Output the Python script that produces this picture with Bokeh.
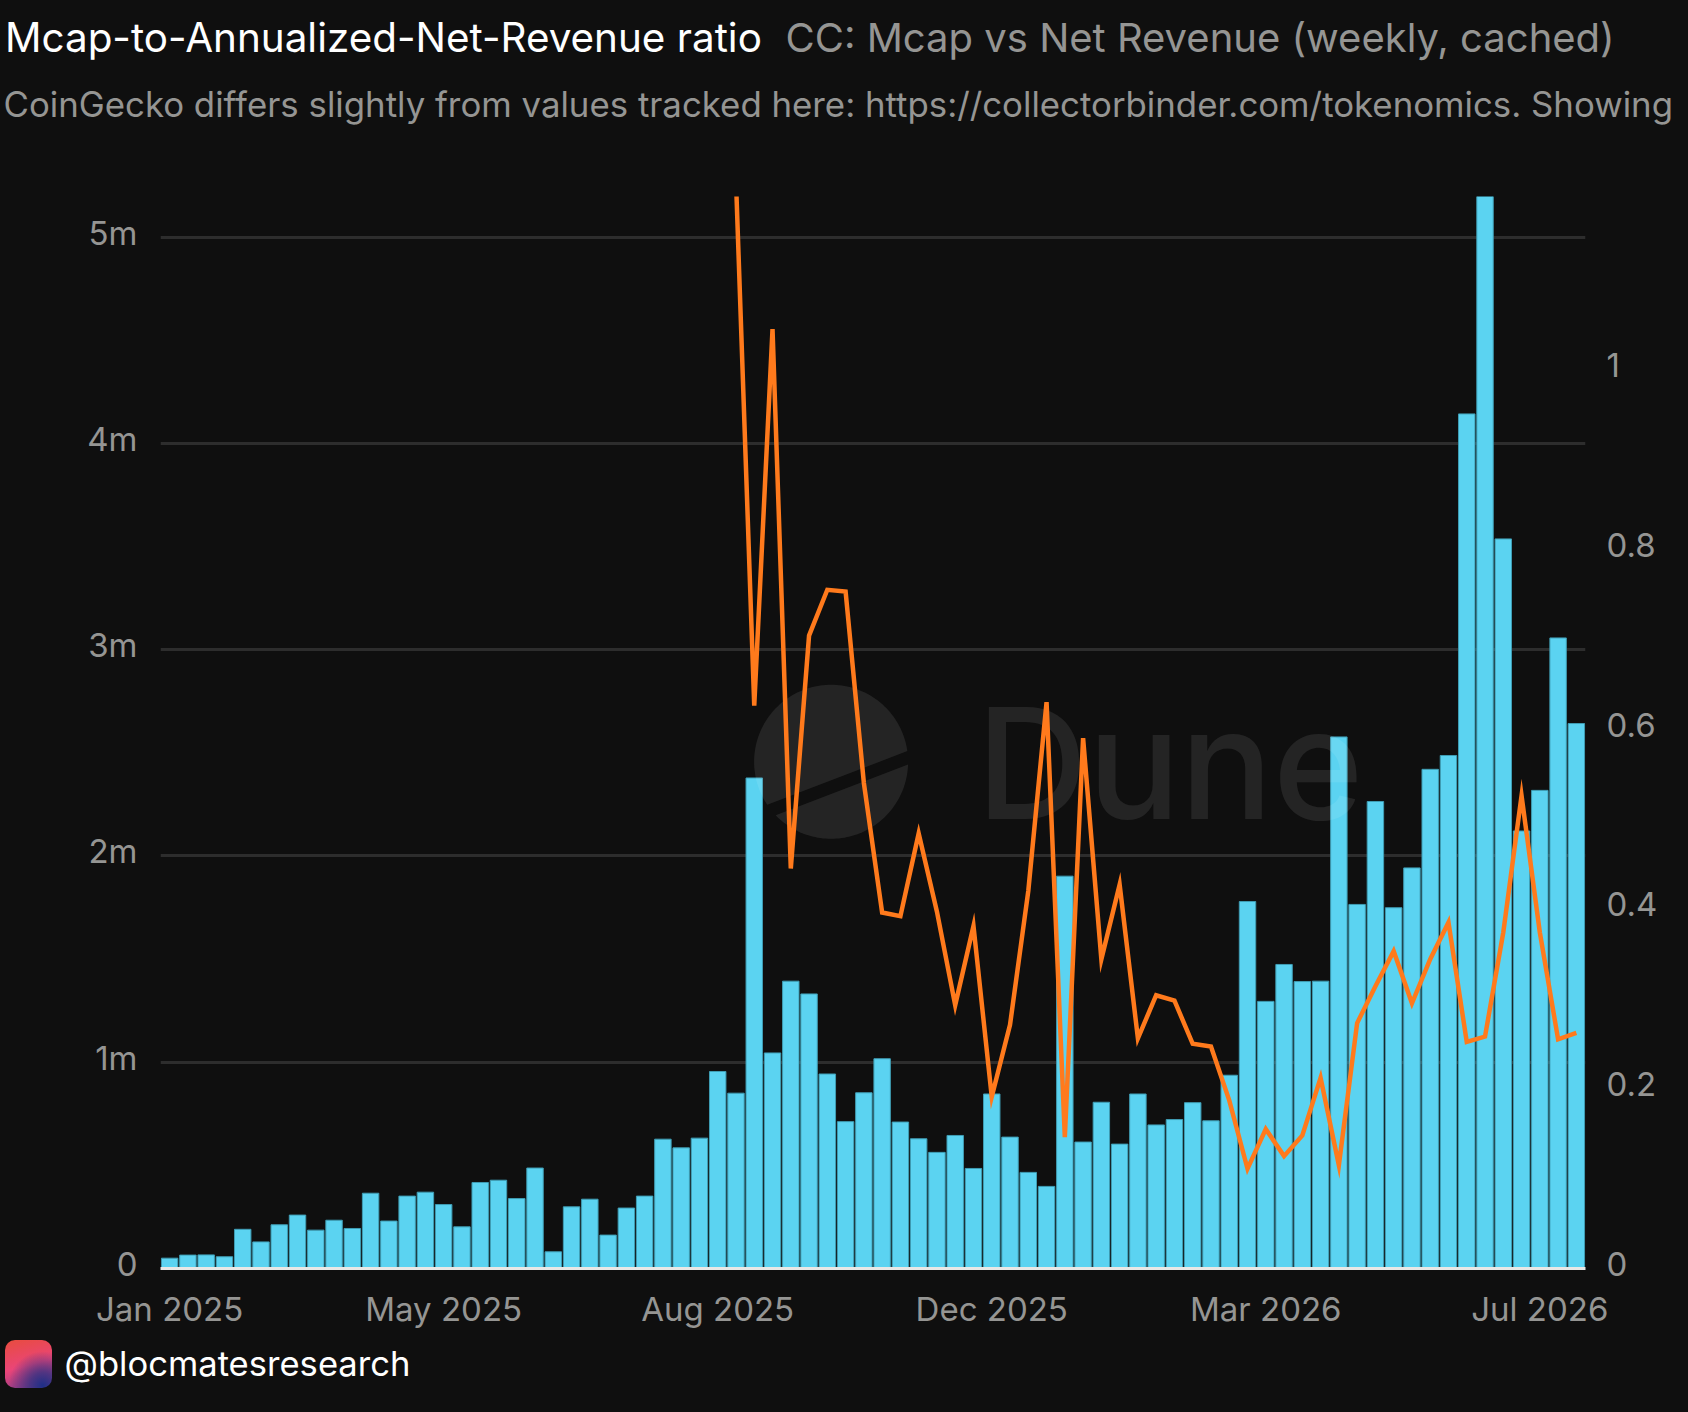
from bokeh.embed import file_html
from bokeh.resources import INLINE
from bokeh.plotting import figure
from bokeh.core.properties import value
from bokeh.models import Range1d, LinearAxis, FixedTicker, Div, ColumnDataSource
import numpy as np

title_main = "Mcap-to-Annualized-Net-Revenue ratio"
title_sub = "CC: Mcap vs Net Revenue (weekly, cached)"
subtitle = "CoinGecko differs slightly from values tracked here: https://collectorbinder.com/tokenomics. Showing"
handle = "@blocmatesresearch"

x_tick_pos = [0, 15, 30, 45, 60, 75]
x_tick_labels = ["Jan 2025", "May 2025", "Aug 2025", "Dec 2025", "Mar 2026", "Jul 2026"]
y_ticks = [0, 1, 2, 3, 4, 5]
y_labels = ["0", "1m", "2m", "3m", "4m", "5m"]
r_ticks = [0, 0.2, 0.4, 0.6, 0.8, 1]
r_labels = ["0", "0.2", "0.4", "0.6", "0.8", "1"]

net_revenue_m = [
    0.050, 0.065, 0.066, 0.057, 0.190, 0.129, 0.212, 0.259, 0.186, 0.234,
    0.194, 0.365, 0.230, 0.351, 0.370, 0.310, 0.202, 0.417, 0.428, 0.339,
    0.487, 0.081, 0.299, 0.336, 0.162, 0.293, 0.351, 0.627, 0.585, 0.632,
    0.955, 0.850, 2.378, 1.045, 1.393, 1.331, 0.943, 0.712, 0.852, 1.017,
    0.710, 0.629, 0.563, 0.645, 0.485, 0.846, 0.637, 0.466, 0.398, 1.902,
    0.613, 0.806, 0.603, 0.846, 0.696, 0.722, 0.804, 0.716, 0.937, 1.779,
    1.295, 1.474, 1.391, 1.393, 2.577, 1.765, 2.264, 1.749, 1.942, 2.420,
    2.487, 4.143, 5.600, 3.537, 2.121, 2.318, 3.057, 2.642,
]
ratio_start = 31
ratio = [
    1.21, 0.626, 1.045, 0.445, 0.704, 0.755, 0.753, 0.540, 0.396, 0.392,
    0.484, 0.397, 0.293, 0.381, 0.191, 0.271, 0.420, 0.630, 0.146, 0.590,
    0.344, 0.427, 0.256, 0.304, 0.298, 0.250, 0.247, 0.187, 0.111, 0.155,
    0.125, 0.148, 0.212, 0.115, 0.273, 0.314, 0.353, 0.295, 0.344, 0.385,
    0.252, 0.258, 0.374, 0.526, 0.374, 0.255, 0.262,
]

BG = "#0f0f0f"
W, H = 1688, 1412
FL, FR, FT, FB = 160, 1585, 196, 1268
YMAX, RMAX = 5.197, 1.1925
LIFT = 4.6  # tick labels sit this many px above their gridline
font = "Inter"
BASE = 0.37  # the SVG text baseline lands this many em below the requested y

fig = figure(width=W, height=H, output_backend="svg", toolbar_location=None,
             x_range=Range1d(-0.5, 77.5), y_range=Range1d(0, YMAX),
             min_border_left=FL, min_border_right=W - FR, min_border_top=FT, min_border_bottom=H - FB,
             background_fill_color=None, border_fill_color=None, outline_line_color=None,
             styles={"position": "fixed", "left": "0px", "top": "0px", "background": BG})
fig.xaxis.visible = False
fig.yaxis.visible = False
fig.xgrid.visible = False
fig.ygrid.ticker = FixedTicker(ticks=y_ticks[1:])
fig.ygrid.grid_line_color = "#2d2d2d"
fig.ygrid.grid_line_width = 3

lift_l = LIFT / (FB - FT) * YMAX
lift_r = LIFT / (FB - FT) * RMAX
fig.extra_y_ranges = {"ratio": Range1d(0, RMAX),
                      "left_labels": Range1d(-lift_l, YMAX - lift_l),
                      "right_labels": Range1d(-lift_r, RMAX - lift_r)}

tick_color = "#959593"
def style(ax, overrides):
    ax.major_tick_line_color = None
    ax.minor_tick_line_color = None
    ax.major_label_text_font = font
    ax.major_label_text_font_size = "33px"
    ax.major_label_text_color = tick_color
    ax.major_label_overrides = overrides

left = LinearAxis(y_range_name="left_labels", ticker=FixedTicker(ticks=y_ticks), axis_line_color=None, major_label_standoff=17)
style(left, dict(zip(y_ticks, y_labels)))
fig.add_layout(left, "left")

right = LinearAxis(y_range_name="right_labels", ticker=FixedTicker(ticks=r_ticks), axis_line_color=None, major_label_standoff=15)
style(right, dict(zip(r_ticks, r_labels)))
fig.add_layout(right, "right")

bottom = LinearAxis(ticker=FixedTicker(ticks=x_tick_pos), axis_line_color="#e8e8e6", axis_line_width=3, major_label_standoff=14)
style(bottom, dict(zip(x_tick_pos, x_tick_labels)))
fig.add_layout(bottom, "below")

bars = ColumnDataSource(dict(x=list(range(len(net_revenue_m))), top=net_revenue_m))
fig.vbar(x="x", top="top", width=0.9, source=bars, fill_color="#5bd3f1", line_color="#3f9db4", line_width=1)

def px_x(v):
    return -0.5 + (np.asarray(v, dtype=float) - FL) / (FR - FL) * 78
def px_y(v):
    return (FB - np.asarray(v, dtype=float)) / (FB - FT) * YMAX

# Dune watermark: a disc cut by a slanted stripe, plus the word
cx, cy, rad = 830.6, 761.3, 77
ang = np.linspace(0, 2 * np.pi, 181)[:-1]
ox, oy = cx + rad * np.cos(ang), cy + rad * np.sin(ang)
slope = (751.6 - 805) / (907.6 - 769)
def edge(x, y0_at_907):
    return y0_at_907 + slope * (x - 907.6)
def chain(mask):
    idx = np.where(mask)[0]
    breaks = np.where(np.diff(idx) > 1)[0]
    if len(breaks):
        idx = np.r_[idx[breaks[0] + 1:], idx[:breaks[0] + 1]]
    return ox[idx], oy[idx]
wm = dict(fill_color="#ffffff", fill_alpha=0.09, line_color=None)
for m in (oy < edge(ox, 751.6), oy > edge(ox, 761.6)):
    ax_, ay_ = chain(m)
    fig.patch(px_x(ax_), px_y(ay_), **wm)

dune_size = 154
fig.text(x=[float(px_x(976))], y=[float(px_y(819 - BASE * dune_size))], text=["Dune"], text_font=value("Inter Medium"),
         text_font_size=f"{dune_size}px", text_color="#ffffff", text_alpha=0.09, text_baseline="alphabetic")

fig.line(x=list(range(ratio_start, ratio_start + len(ratio))), y=ratio, y_range_name="ratio",
         line_color="#ff7a1c", line_width=4.5, line_join="miter")

# Text outside the plot frame lives on a transparent full-page layer measured in page pixels
layer = figure(width=W, height=H, output_backend="svg", toolbar_location=None,
               x_range=Range1d(0, W), y_range=Range1d(H, 0),
               min_border=0, background_fill_color=None, border_fill_color=None, outline_line_color=None,
               styles={"position": "fixed", "left": "0px", "top": "0px", "pointer-events": "none"})
layer.axis.visible = False
layer.grid.visible = False

def text(x, y, s, size, color):
    layer.text(x=[x], y=[y - BASE * size], text=[s], text_font=value(font), text_font_size=f"{size}px",
               text_color=color, text_baseline="alphabetic")

text(4.5, 52, title_main, 40.4, "#ffffff")
text(785, 52, title_sub, 40.0, tick_color)
text(3, 116, subtitle, 34.8, tick_color)
text(64, 1375, handle, 34.6, "#ffffff")

logo = Div(text="", width=47, height=48, styles={
    "position": "fixed", "left": "0px", "top": "1335px", "border-radius": "10px",
    "background": "radial-gradient(circle at 80% 95%, #1f2f86 0%, rgba(60,50,130,.85) 22%, rgba(140,50,130,0) 58%),"
                  "linear-gradient(165deg, #e84c3e 0%, #ea4578 52%, #8a3a8a 100%)"})

p = [fig, layer, logo]
open("out.html", "w").write(file_html(p, INLINE))
